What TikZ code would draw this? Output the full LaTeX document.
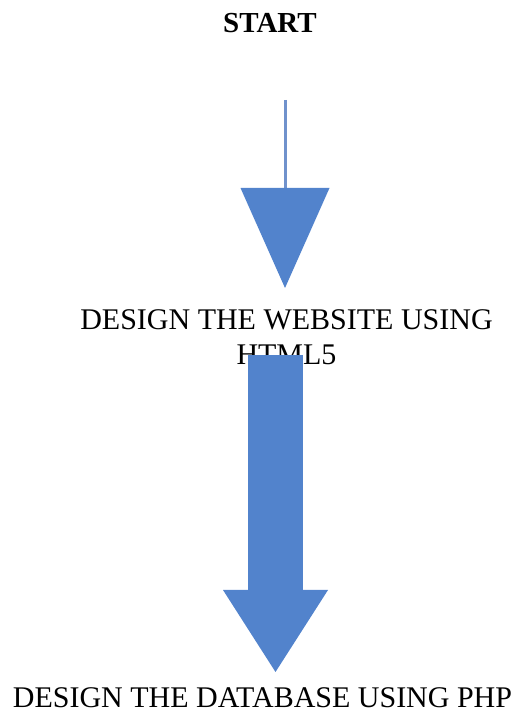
\documentclass[tikz,border=0pt]{standalone}
\usepackage{fontspec}
\setmainfont{Liberation Serif}
\usetikzlibrary{arrows.meta}
\definecolor{flowblue}{RGB}{82,131,204}
\definecolor{lineblue}{RGB}{112,146,204}

\begin{document}
\begin{tikzpicture}[x=1pt, y=1pt,
    step text/.style={font=\fontsize{30}{35}\selectfont, align=center, inner sep=0pt, anchor=base},
    title text/.style={step text, font=\fontsize{29}{35}\selectfont\bfseries},
    thin flow/.style={draw=lineblue, line width=3pt,
        -{Triangle[length=100pt, width=89pt, line width=0pt, color=flowblue]}
    },
    block flow/.style={draw=flowblue, line width=55pt,
        -{Triangle[length=82pt, width=105pt, line width=0pt]}
    }
    ]
    \useasboundingbox (0,0) rectangle (526,711);
    \node [title text] (start) at (270,678) {START};
    \node [step text] (website) at (286.5,346) {DESIGN THE WEBSITE USING\\HTML5};
    \node [step text] (database) at (262.5,4) {DESIGN THE DATABASE USING PHP};
    \coordinate (start tail) at ([xshift=15pt, yshift=-67pt]start.base);
    \coordinate (start tip) at ([yshift=-188pt]start tail);
    \coordinate (website tail) at ([xshift=-11pt, yshift=10pt]website.base);
    \coordinate (website tip) at ([yshift=35pt]database.base -| website tail);
    \draw [thin flow] (start tail) -- (start tip);
    \draw [block flow] (website tail) -- (website tip);
\end{tikzpicture}
\end{document}
